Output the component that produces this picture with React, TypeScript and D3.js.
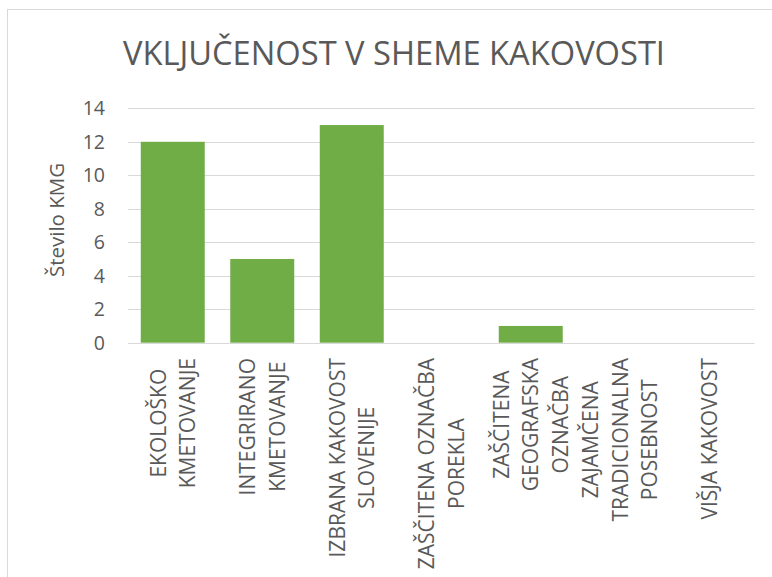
import React, { useEffect, useRef } from "react";
import * as d3 from "d3";

const categories: string[][] = [
  ["EKOLOŠKO", "KMETOVANJE"],
  ["INTEGRIRANO", "KMETOVANJE"],
  ["IZBRANA KAKOVOST", "SLOVENIJE"],
  ["ZAŠČITENA OZNAČBA", "POREKLA"],
  ["ZAŠČITENA", "GEOGRAFSKA", "OZNAČBA"],
  ["ZAJAMČENA", "TRADICIONALNA", "POSEBNOST"],
  ["VIŠJA KAKOVOST"],
];
const values: number[] = [12, 5, 13, 0, 1, 0, 0];
const yTicks: number[] = [0, 2, 4, 6, 8, 10, 12, 14];
const title = "VKLJUČENOST V SHEME KAKOVOSTI";
const yTitle = "Število KMG";

const W = 772;
const H = 577;
const FONT = "'Open Sans', 'DejaVu Sans', sans-serif";
const TEXT = "#595959";

export default function App() {
  const ref = useRef<SVGSVGElement | null>(null);

  useEffect(() => {
    const svg = d3.select(ref.current);
    svg.selectAll("*").remove();

    const left = 128, right = 754.5, top = 108.3, bottom = 342.7;

    svg.append("rect").attr("x", 0).attr("y", 0).attr("width", W).attr("height", H).attr("fill", "#fff");
    svg.append("rect")
      .attr("x", 7.5).attr("y", 9.5).attr("width", W + 20).attr("height", H + 20)
      .attr("fill", "none").attr("stroke", "#d9d9d9").attr("stroke-width", 1);

    const t = svg.append("text")
      .attr("x", 394).attr("y", 64.5)
      .attr("text-anchor", "middle")
      .attr("font-family", FONT).attr("font-size", 32.5)
      .attr("fill", TEXT)
      .text(title);
    const tw = (t.node() as SVGTextElement).getComputedTextLength();
    if (tw > 0) t.attr("textLength", 542).attr("lengthAdjust", "spacingAndGlyphs");

    const x = d3.scaleBand<number>()
      .domain(categories.map((_, i) => i))
      .range([left, right])
      .paddingInner(0.285).paddingOuter(0.1425);
    const y = d3.scaleLinear().domain([0, 14]).range([bottom, top]);

    // grid
    svg.append("g").selectAll("line").data(yTicks).join("line")
      .attr("x1", left).attr("x2", right)
      .attr("y1", (d) => Math.round(y(d)) + 0.5).attr("y2", (d) => Math.round(y(d)) + 0.5)
      .attr("stroke", "#d9d9d9").attr("stroke-width", 1);

    // tick labels
    svg.append("g").selectAll("text").data(yTicks).join("text")
      .attr("x", 105).attr("y", (d) => y(d))
      .attr("dy", "0.36em")
      .attr("text-anchor", "end")
      .attr("font-family", FONT).attr("font-size", 19.5)
      .attr("fill", TEXT)
      .text((d) => String(d));

    // bars
    svg.append("g").selectAll("rect").data(values).join("rect")
      .attr("x", (_, i) => x(i)!)
      .attr("width", x.bandwidth())
      .attr("y", (d) => y(d))
      .attr("height", (d) => y(0) - y(d))
      .attr("fill", "#70ad47");

    // y title
    svg.append("text")
      .attr("transform", `translate(57,220) rotate(-90)`)
      .attr("dy", "0.36em")
      .attr("text-anchor", "middle")
      .attr("font-family", FONT).attr("font-size", 20.5)
      .attr("fill", TEXT)
      .text(yTitle);

    // x labels
    const lh = 29.5;
    categories.forEach((lines, i) => {
      const cx = x(i)! + x.bandwidth() / 2;
      const g = svg.append("g").attr("transform", `translate(${cx},0) rotate(-90)`);
      const texts = lines.map((ln, j) =>
        g.append("text")
          .attr("y", (j - (lines.length - 1) / 2) * lh)
          .attr("dy", "0.36em")
          .attr("text-anchor", "middle")
          .attr("font-family", FONT).attr("font-size", 21)
          .attr("fill", TEXT)
          .text(ln)
      );
      const maxW = d3.max(texts, (tt) => (tt.node() as SVGTextElement).getComputedTextLength()) || 0;
      texts.forEach((tt) => tt.attr("x", -(358 + maxW / 2)));
    });
  }, []);

  return (
    <svg
      ref={ref}
      width={W}
      height={H}
      style={{ position: "absolute", left: 0, top: 0, display: "block" }}
    />
  );
}
